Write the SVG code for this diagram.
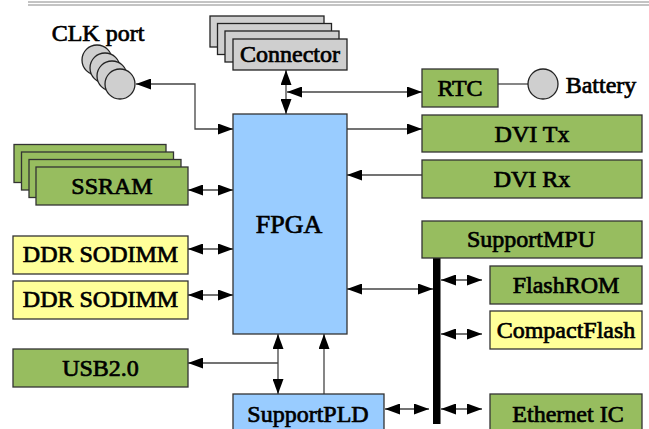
<svg xmlns="http://www.w3.org/2000/svg" width="649" height="429" viewBox="0 0 649 429" font-family="'Liberation Serif', 'DejaVu Serif', serif">
<defs>
<marker id="ah" markerUnits="userSpaceOnUse" markerWidth="15" markerHeight="11" refX="15" refY="5.5" orient="auto-start-reverse" viewBox="0 0 15 11">
<path d="M0,0 L15,5.5 L0,11 z" fill="#000"/>
</marker>
</defs>
<style>
text{font-family:'Liberation Serif','DejaVu Serif',serif}
.t{font-size:24px;fill:#000;text-anchor:middle;stroke:#000;stroke-width:0.7}
.g{fill:#97bd5f;stroke:#333;stroke-width:1.3}
.y{fill:#ffff99;stroke:#333;stroke-width:1.3}
.b{fill:#99ccff;stroke:#333;stroke-width:1.3}
.gr{fill:#cfcfcf;stroke:#222;stroke-width:1.3}
.c{fill:none;stroke:#444;stroke-width:1.3}
.bi{marker-start:url(#ah);marker-end:url(#ah)}
.e{marker-end:url(#ah)}
</style>
<rect width="649" height="429" fill="#fff"/>
<line x1="28" y1="2" x2="649" y2="2" stroke="#888" stroke-width="1"/>
<line x1="28" y1="5" x2="649" y2="5" stroke="#888" stroke-width="1"/>

<g id="connectors">
<polyline class="c bi" points="136,84 195,84 195,129 233,129"/>
<line class="c bi" x1="286" y1="70" x2="286" y2="114"/>
<line class="c bi" x1="287" y1="92" x2="422" y2="92"/>
<line class="c e" x1="347" y1="129" x2="422" y2="129"/>
<line class="c e" x1="422" y1="175" x2="347" y2="175"/>
<line class="c bi" x1="188" y1="190" x2="233" y2="190"/>
<line class="c bi" x1="188" y1="249" x2="233" y2="249"/>
<line class="c bi" x1="188" y1="295" x2="233" y2="295"/>
<line class="c bi" x1="347" y1="289" x2="433" y2="289"/>
<line class="c e" x1="278" y1="363" x2="188" y2="363"/>
<line class="c bi" x1="278" y1="334" x2="278" y2="394"/>
<line class="c e" x1="324" y1="394" x2="324" y2="334"/>
<line class="c bi" x1="385" y1="409" x2="429" y2="409"/>
<line class="c bi" x1="441" y1="280" x2="482" y2="280"/>
<line class="c bi" x1="441" y1="334" x2="482" y2="334"/>
<line class="c bi" x1="441" y1="409" x2="482" y2="409"/>
<line class="c" x1="498" y1="84" x2="528" y2="84"/>
<rect x="433" y="258" width="7.5" height="166" fill="#000"/>
</g>

<g id="clkport">
<circle cx="97" cy="60" r="15" class="gr"/>
<circle cx="105" cy="68" r="15" class="gr"/>
<circle cx="112" cy="76" r="15" class="gr"/>
<circle cx="120" cy="84" r="15" class="gr"/>
<text class="t" x="98" y="41">CLK port</text>
</g>

<g id="connector">
<rect x="210" y="16" width="114" height="31" class="gr"/>
<rect x="217.5" y="23.5" width="114" height="31" class="gr"/>
<rect x="225" y="31" width="114" height="31" class="gr"/>
<rect x="233" y="39" width="114" height="31" class="gr"/>
<text class="t" x="290" y="62">Connector</text>
</g>

<g id="rtc">
<rect x="422" y="69" width="76" height="38" class="g"/>
<text class="t" x="460" y="96">RTC</text>
</g>

<g id="battery">
<circle cx="543" cy="84" r="15" class="gr"/>
<text class="t" x="601" y="93">Battery</text>
</g>

<g id="dvitx">
<rect x="422" y="115" width="220" height="37" class="g"/>
<text class="t" x="532" y="142">DVI Tx</text>
</g>

<g id="dvirx">
<rect x="422" y="160" width="220" height="38" class="g"/>
<text class="t" x="532" y="187">DVI Rx</text>
</g>

<g id="fpga">
<rect x="233" y="114" width="114" height="220" class="b"/>
<text class="t" x="289" y="233" style="font-size:26px">FPGA</text>
</g>

<g id="ssram">
<rect x="14" y="144.5" width="152" height="38" class="g"/>
<rect x="21.5" y="152" width="152" height="38" class="g"/>
<rect x="29" y="159.5" width="152" height="38" class="g"/>
<rect x="36" y="167" width="152" height="38" class="g"/>
<text class="t" x="112" y="194">SSRAM</text>
</g>

<g id="ddr1">
<rect x="13" y="236" width="175" height="38" class="y"/>
<text class="t" x="100.5" y="262">DDR SODIMM</text>
</g>

<g id="ddr2">
<rect x="13" y="281" width="175" height="38" class="y"/>
<text class="t" x="100.5" y="307">DDR SODIMM</text>
</g>

<g id="usb">
<rect x="13" y="349" width="175" height="38" class="g"/>
<text class="t" x="100.5" y="376">USB2.0</text>
</g>

<g id="supportpld">
<rect x="233" y="394" width="151" height="44" class="b"/>
<text class="t" x="308" y="422">SupportPLD</text>
</g>

<g id="supportmpu">
<rect x="422" y="221" width="220" height="37" class="g"/>
<text class="t" x="531" y="247">SupportMPU</text>
</g>

<g id="flashrom">
<rect x="490" y="266" width="152" height="38" class="g"/>
<text class="t" x="566" y="293">FlashROM</text>
</g>

<g id="compactflash">
<rect x="490" y="311" width="152" height="38" class="y"/>
<text class="t" x="566" y="338">CompactFlash</text>
</g>

<g id="ethernet">
<rect x="490" y="394" width="152" height="44" class="g"/>
<text class="t" x="568" y="422">Ethernet IC</text>
</g>
</svg>
